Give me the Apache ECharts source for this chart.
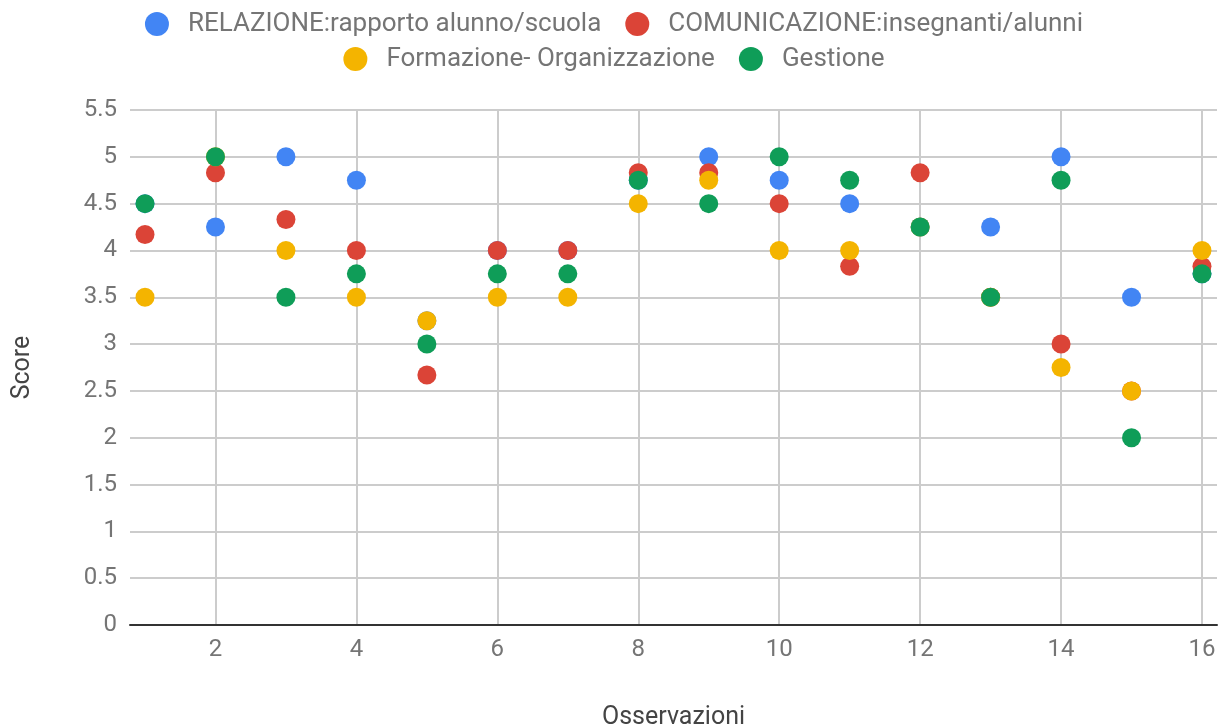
<!DOCTYPE html>
<html lang="it">
<head>
  <meta charset="UTF-8">
  <title>Score per osservazione</title>
  <script src="https://cdn.jsdelivr.net/npm/echarts@6.0.0/dist/echarts.min.js"></script>
  <style>
    body { margin: 0; background: #fff; }
    #chart { width: 1228px; height: 728px; }
  </style>
</head>
<body>
  <div id="chart"></div>
  <script>
    // osservazioni 1..16
    const osservazioni = [1, 2, 3, 4, 5, 6, 7, 8, 9, 10, 11, 12, 13, 14, 15, 16];
    const relazione     = [4.5, 4.25, 5, 4.75, 3.25, 4, 4, 4.75, 5, 4.75, 4.5, 4.25, 4.25, 5, 3.5, 3.75];
    const comunicazione = [4.17, 4.83, 4.33, 4, 2.67, 4, 4, 4.83, 4.83, 4.5, 3.83, 4.83, 3.5, 3, 2.5, 3.83];
    const formazione    = [3.5, 5, 4, 3.5, 3.25, 3.5, 3.5, 4.5, 4.75, 4, 4, 4.25, 3.5, 2.75, 2.5, 4];
    const gestione      = [4.5, 5, 3.5, 3.75, 3, 3.75, 3.75, 4.75, 4.5, 5, 4.75, 4.25, 3.5, 4.75, 2, 3.75];
    const xTicks = [2, 4, 6, 8, 10, 12, 14, 16];

    const names = ['RELAZIONE:rapporto alunno/scuola', 'COMUNICAZIONE:insegnanti/alunni',
                   'Formazione- Organizzazione', 'Gestione'];
    const colors = ['#4285F4', '#DB4437', '#F4B400', '#0F9D58'];
    const values = [relazione, comunicazione, formazione, gestione];

    const font = 'Roboto, Arial, sans-serif';
    const chart = echarts.init(document.getElementById('chart'));

    // linea di base (0) scura, le altre grigio chiaro
    const ySplitColors = ['#333333'].concat(new Array(11).fill('#cccccc'));

    const legendBase = {
      icon: 'circle',
      itemWidth: 24,
      itemHeight: 24,
      itemGap: 24,
      left: 'center',
      textStyle: { fontFamily: font, fontSize: 26, color: '#757575', padding: [0, 0, 0, 14] }
    };

    chart.setOption({
      animation: false,
      color: colors,
      legend: [
        Object.assign({}, legendBase, { top: 6, data: [names[0], names[1]] }),
        Object.assign({}, legendBase, { top: 41, data: [names[2], names[3]] })
      ],
      grid: { left: 130, right: 11, top: 110, bottom: 103, outerBoundsMode: 'none' },
      xAxis: {
        type: 'value',
        min: 0.787,
        max: 16.213,
        name: 'Osservazioni',
        nameLocation: 'middle',
        nameGap: 80,
        nameTextStyle: { fontFamily: font, fontSize: 25, color: '#444' },
        axisLine: { show: true, lineStyle: { color: '#333', width: 2 } },
        axisTick: { show: false, customValues: xTicks },
        axisLabel: { customValues: xTicks, fontFamily: font, fontSize: 24, color: '#757575', margin: 13 },
        splitLine: { show: true, lineStyle: { color: '#cccccc', width: 2 } }
      },
      yAxis: {
        type: 'value',
        min: 0,
        max: 5.5,
        interval: 0.5,
        name: 'Score',
        nameLocation: 'middle',
        nameGap: 95,
        nameRotate: 90,
        nameTextStyle: { fontFamily: font, fontSize: 25, color: '#444' },
        axisLine: { show: false },
        axisTick: { show: false },
        axisLabel: { fontFamily: font, fontSize: 24, color: '#757575', margin: 13 },
        splitLine: { lineStyle: { color: ySplitColors, width: 2 } }
      },
      series: names.map((n, i) => ({
        name: n,
        type: 'scatter',
        symbolSize: 19,
        itemStyle: { color: colors[i], opacity: 1 },
        data: osservazioni.map((x, j) => [x, values[i][j]])
      }))
    });
  </script>
</body>
</html>
